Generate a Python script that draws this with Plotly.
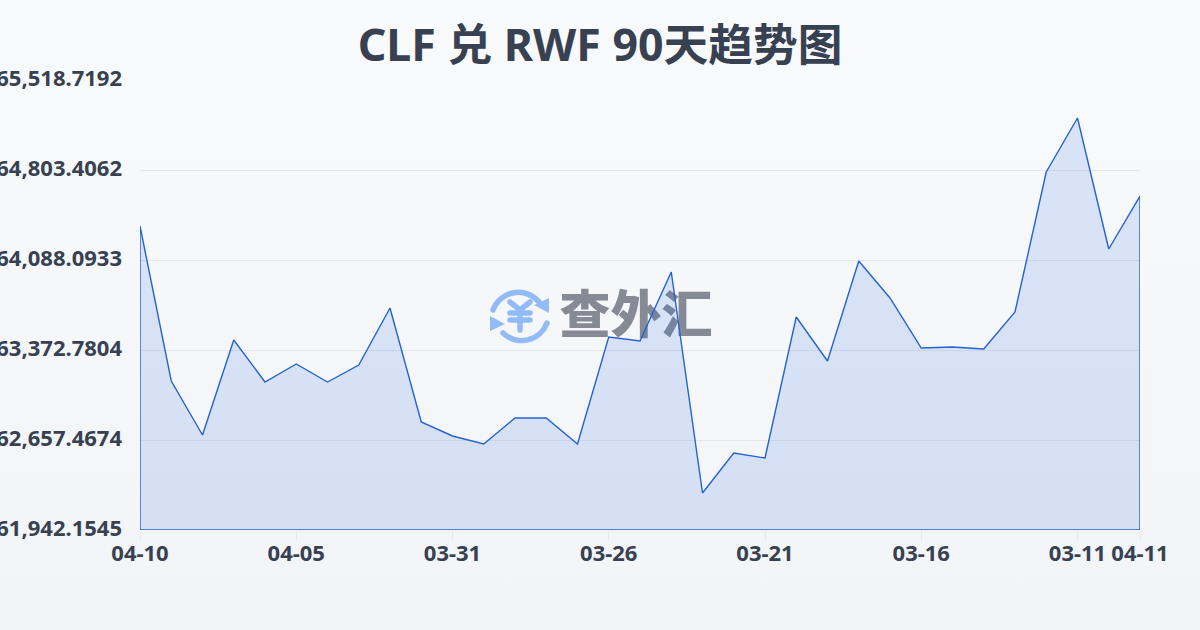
import base64
import plotly.graph_objects as go

TITLE = "CLF 兑 RWF 90天趋势图"
WATERMARK = "查外汇"
dates = ["04-10","04-09","04-08","04-07","04-06","04-05","04-04","04-03","04-02","04-01","03-31",
         "03-30","03-29","03-28","03-27","03-26","03-25","03-24","03-23","03-22","03-21",
         "03-20","03-19","03-18","03-17","03-16","03-15","03-14","03-13","03-12","03-11","03-10","04-11"]
values = [64358.3,63126.4,62697.2,63452.3,63118.4,63261.5,63118.4,63253.6,63706.6,62800.5,62689.3,
          62625.7,62832.3,62832.3,62625.7,63476.1,63444.3,63992.7,62236.2,62554.2,62514.4,
          63635.1,63285.4,64080.2,63786.1,63388.7,63396.6,63380.8,63674.8,64787.5,65216.7,64175.5,64596.8]
y_ticks = [61942.1545,62657.4674,63372.7804,64088.0933,64803.4062,65518.7192]
x_tick_labels = ["04-10","04-05","03-31","03-26","03-21","03-16","03-11","04-11"]

FONT = "Noto Sans, Noto Sans CJK SC, sans-serif"
INK = "#374151"
LINE = "#2563cf"
y_min, y_max = y_ticks[0], y_ticks[-1]

x_idx = list(range(len(dates)))
tick_idx = [dates.index(d) for d in x_tick_labels]

def data_uri(svg):
    return "data:image/svg+xml;base64," + base64.b64encode(svg.encode()).decode()

bg_svg = ('<svg xmlns="http://www.w3.org/2000/svg" width="1200" height="630" preserveAspectRatio="none">'
          '<defs><linearGradient id="g" x1="0" y1="0" x2="0" y2="1"><stop offset="0" stop-color="#f8fafc"/>'
          '<stop offset="1" stop-color="#f2f4f7"/></linearGradient></defs>'
          '<rect width="1200" height="630" fill="url(#g)"/></svg>')
icon_svg = ('<svg xmlns="http://www.w3.org/2000/svg" width="75" height="70" viewBox="0 0 75 70">'
            '<g fill="none" stroke="#93bbf8" stroke-width="5.5" stroke-linecap="round" stroke-linejoin="round">'
            '<path d="M8 30 A27 27 0 0 1 54 22"/><path d="M62 43 A27 27 0 0 1 18 53"/>'
            '<path d="M25 22 L35 30 L45 22"/><path d="M25 33 H45 M25 40 H45 M35 30 V50"/></g>'
            '<path d="M49 25 L64 18 L64 33 Z M5 36 L20 44 L5 51 Z" fill="#93bbf8"/></svg>')

def px_x(px): return (px - 140) / 1000
def px_y(py): return (530 - py) / 450

fig = go.Figure()
fig.add_trace(go.Scatter(x=[15.87], y=[63610], mode="text", text=[WATERMARK], hoverinfo="skip",
                         textposition="middle center",
                         textfont=dict(family="Noto Sans CJK SC", size=51, color="#858a94", weight=900)))
fig.add_trace(go.Scatter(x=x_idx + [x_idx[-1], x_idx[0], x_idx[0]],
                         y=values + [y_min, y_min, values[0]],
                         mode="lines", fill="toself", fillcolor="rgba(37,99,235,0.14)",
                         line=dict(color=LINE, width=1.4), hoverinfo="skip", cliponaxis=False))

fig.update_layout(
    width=1200, height=630, autosize=False, showlegend=False,
    margin=dict(l=140, r=60, t=80, b=100, autoexpand=False),
    paper_bgcolor="#f5f7fa", plot_bgcolor="rgba(0,0,0,0)",
    font=dict(family=FONT, color=INK),
    title=dict(text=TITLE, x=0.5, xanchor="center", y=0.928, yanchor="middle", automargin=False,
               font=dict(family=FONT, size=44.7, color=INK, weight="bold")),
    xaxis=dict(range=[0, len(dates) - 1], tickmode="array", tickvals=tick_idx, ticktext=x_tick_labels,
               showgrid=False, zeroline=False, showline=False, ticks="outside", ticklen=10, tickwidth=1,
               tickcolor="#e5e7eb", tickangle=0, automargin=False, ticklabelstandoff=-6,
               tickfont=dict(family=FONT, size=22, color=INK, weight="bold")),
    yaxis=dict(range=[y_min, y_max], tickmode="array", tickvals=y_ticks, automargin=False,
               ticktext=[f"{v:,.4f}" for v in y_ticks], showgrid=True, gridcolor="#e5e7eb", gridwidth=1,
               zeroline=False, showline=False, ticks="", ticklabelstandoff=17, ticklabelshift=-2,
               tickfont=dict(family=FONT, size=22, color=INK, weight="bold")),
    images=[
        dict(source=data_uri(bg_svg), xref="paper", yref="paper", x=px_x(0), y=px_y(0),
             sizex=1.2, sizey=630 / 450, sizing="stretch", xanchor="left", yanchor="top", layer="below"),
        dict(source=data_uri(icon_svg), xref="paper", yref="paper", x=px_x(485), y=px_y(280),
             sizex=0.075, sizey=70 / 450, sizing="stretch", xanchor="left", yanchor="top", layer="below"),
    ],
)
fig.write_html("out.html", config={"displayModeBar": False},
               post_script="document.documentElement.style.margin=0;document.body.style.margin=0;document.body.style.overflow='hidden';")
